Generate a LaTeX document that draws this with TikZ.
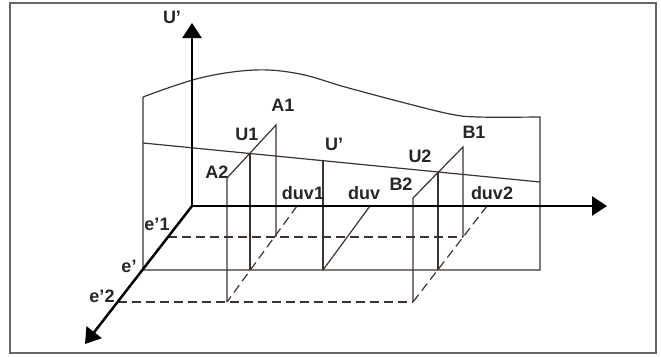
\documentclass[tikz,border=0pt]{standalone}
\usepackage{fontspec}
\setmainfont{Liberation Sans}
\usetikzlibrary{arrows.meta}
\definecolor{lc}{RGB}{62,50,46}
\begin{document}
\begin{tikzpicture}[x=1pt,y=-1pt,
  ln/.style={line width=1.2pt, draw=lc},
  ax/.style={line width=2.5pt, draw=black, -{Triangle[length=15pt,width=19pt]}},
  dsh/.style={ln, dash pattern=on 9pt off 5pt},
  lab/.style={font=\fontsize{18}{18}\selectfont\bfseries, inner sep=0pt, text=black!85}]
\useasboundingbox (0,0) rectangle (661,356);
\draw[line width=1.2pt, draw=gray!80!black] (10,3) rectangle (656,353);
% key points
\coordinate (O) at (192,206);
\coordinate (Utop) at (192,23);
\coordinate (Xend) at (607,206);
\coordinate (Dend) at (85,344);
\coordinate (E1) at (168,237);
\coordinate (E) at (142.5,270);
\coordinate (E2) at (117.6,302);
\coordinate (TL) at (143,97);
\coordinate (BL) at (143,270);
\coordinate (BR) at (540,270);
\coordinate (TR) at (540,117);
\coordinate (ML) at (143,143);
\coordinate (MR) at (540,182);
% surface
\draw[ln] (BL) -- (TL) plot[smooth, tension=0.6] coordinates {(143,97) (200,78) (255,70) (300,74) (345,87) (405,103) (450,114) (478,117) (540,117)} -- (BR) -- (BL);
\draw[ln] (ML) -- (MR);
% dashed depth lines
\coordinate (A1b) at (276,237);
\coordinate (A2b) at (227,302);
\coordinate (B1b) at (463,237);
\coordinate (B2b) at (413,302);
\draw[dsh] (E1) -- (B1b);
\draw[dsh] (E2) -- (B2b);
\coordinate (D1) at (297,206);
\coordinate (D) at (370,206);
\coordinate (D2) at (487,206);
\draw[dsh] (D1) -- (A2b);
\draw[dsh] (D2) -- (B2b);
% section A
\coordinate (A1t) at (276,125);
\coordinate (A2t) at (227,178);
\coordinate (U1t) at (250,153.5);
\coordinate (U1b) at (250,270);
\draw[ln] (A2b) -- (A2t) -- (A1t) -- (A1b);
\draw[ln] (U1t) -- (U1b);
% section U'
\coordinate (Umt) at (323,160.7);
\coordinate (Umb) at (323,270);
\draw[ln] (Umt) -- (Umb);
\draw[ln] (D) -- (Umb);
% section B
\coordinate (B1t) at (463,147);
\coordinate (B2t) at (413,198);
\coordinate (U2t) at (438,172);
\coordinate (U2b) at (438,270);
\draw[ln] (B2b) -- (B2t) -- (B1t) -- (B1b);
\draw[ln] (U2t) -- (U2b);
% axes
\draw[ax] (O) -- (Utop);
\draw[ax] (O) -- (Xend);
\draw[ax] (O) -- (Dend);
% labels
\node[lab] (lU) at (172,17) {U'};
\node[lab] (lA1) at (283,105) {A1};
\node[lab] (lU1) at (247,134) {U1};
\node[lab] (lA2) at (217,172) {A2};
\node[lab] (lUm) at (334,144) {U'};
\node[lab] (lU2) at (420,156) {U2};
\node[lab] (lB1) at (474,132) {B1};
\node[lab] (lB2) at (401,184) {B2};
\node[lab] (ld1) at (303,193) {duv1};
\node[lab] (ld) at (364,193) {duv};
\node[lab] (ld2) at (492,193) {duv2};
\node[lab] (le1) at (157,224) {e'1};
\node[lab] (le) at (129,266) {e'};
\node[lab] (le2) at (102,296) {e'2};
\end{tikzpicture}
\end{document}
